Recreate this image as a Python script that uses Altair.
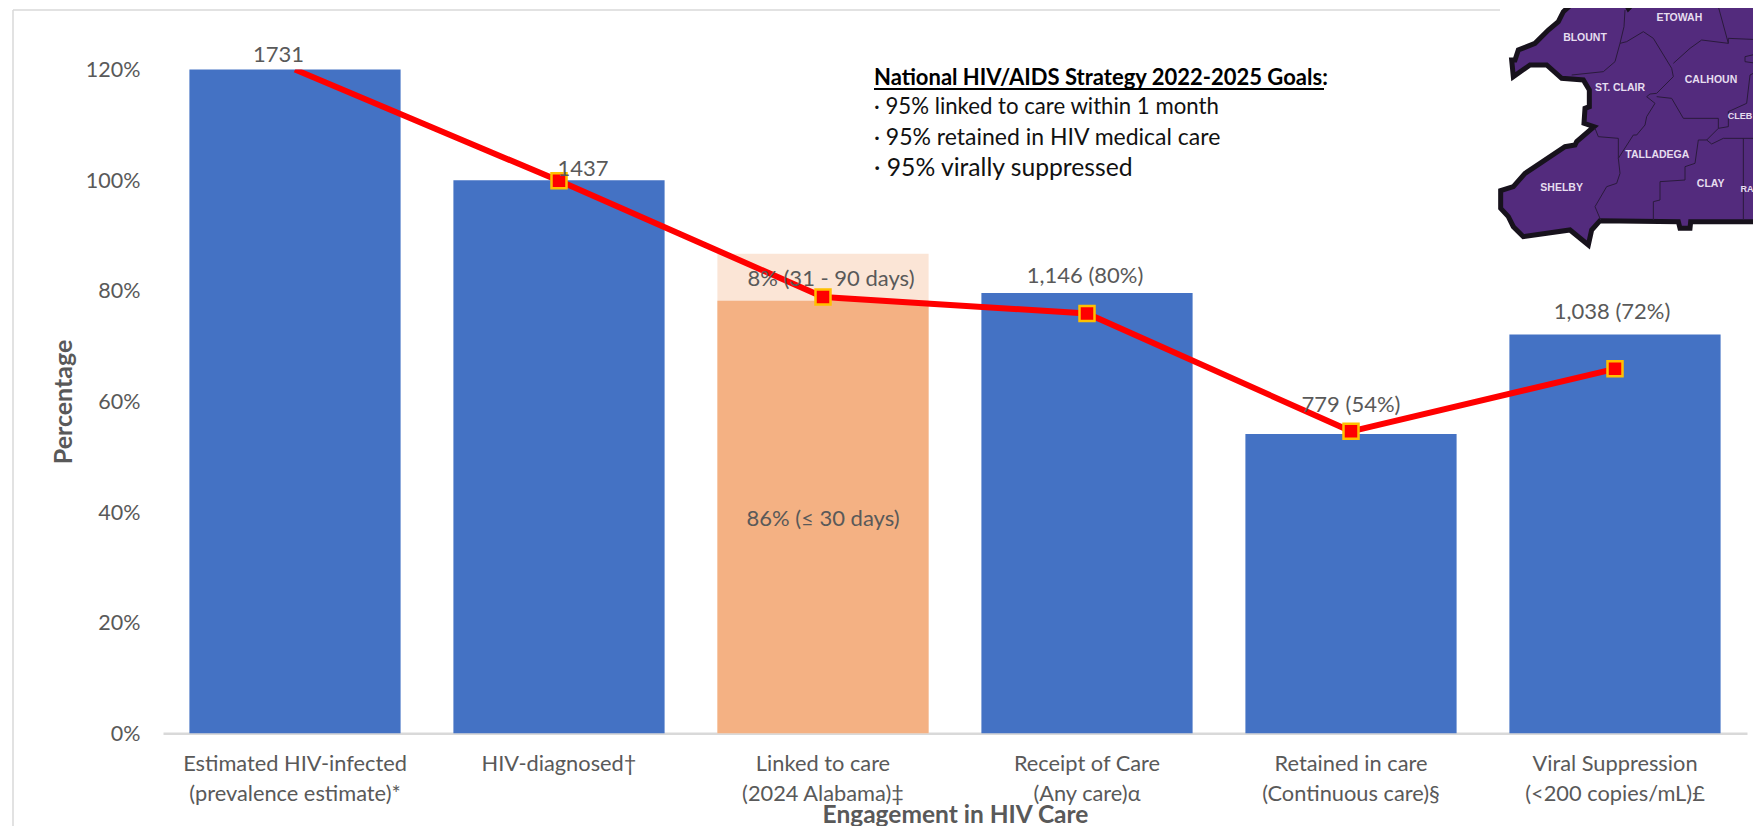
import altair as alt

categories = ["Estimated HIV-infected\n(prevalence estimate)*", "HIV-diagnosed†", "Linked to care\n(2024 Alabama)‡",
              "Receipt of Care\n(Any care)α", "Retained in care\n(Continuous care)§", "Viral Suppression\n(<200 copies/mL)£"]
blue_values = [120, 100, None, 79.6, 54.1, 72.1]
linked_30 = 78.2
linked_90 = 86.7
line_values = [120, 99.9, 78.9, 75.9, 54.6, 65.9]
bar_labels = ["1731", "1437", "8% (31 - 90 days)", "1,146 (80%)", "779 (54%)", "1,038 (72%)"]
label_heights = [120, 100, 83.4, 79.7, 54.2, 72.2]
label_inner = "86% (≤ 30 days)"
goal_title = "National HIV/AIDS Strategy 2022-2025 Goals:"
goal_lines = ["· 95% linked to care within 1 month", "· 95% retained in HIV medical care", "· 95% virally suppressed"]
axis_x_title = "Engagement in HIV Care"
axis_y_title = "Percentage"
y_ticks = [0, 20, 40, 60, 80, 100, 120]

county_names = ["BLOUNT", "ETOWAH", "ST. CLAIR", "CALHOUN", "CLEB", "TALLADEGA", "CLAY", "RA", "SHELBY"]
county_at = [(315, 113), (598, 55), (420, 265), (693, 240), (780, 348), (532, 465), (692, 552), (801, 568), (245, 563)]
county_size = [10.5, 10.5, 10.5, 10.5, 9, 10.5, 10.5, 9, 10.5]
outline = [(300, -10), (250, 35), (235, 65), (205, 90), (165, 130), (115, 150), (105, 180), (95, 180), (100, 230),
           (150, 195), (200, 195), (245, 235), (310, 240), (328, 270), (328, 320), (315, 325), (312, 370), (342, 380),
           (290, 425), (285, 435), (255, 440), (180, 490), (135, 520), (100, 560), (62, 572), (62, 625), (85, 650),
           (100, 680), (130, 710), (270, 690), (325, 735), (335, 690), (360, 662), (595, 665), (600, 685), (630, 685),
           (632, 665), (870, 665), (870, -10), (480, -10), (445, 25), (425, -10)]
borders = [
    [(435, 30), (432, 80), (420, 130), (405, 185), (370, 215), (275, 225)],
    [(420, 130), (440, 125), (490, 95), (520, 115), (575, 205), (580, 230), (530, 280), (510, 282), (500, 290), (525, 310),
     (500, 350), (495, 375), (470, 405), (460, 405), (415, 475)],
    [(345, 385), (355, 410), (415, 415), (415, 475), (420, 520), (410, 550), (380, 560), (345, 620), (362, 660)],
    [(580, 190), (630, 145), (665, 120), (745, 130), (715, 20), (690, 10), (715, -5)],
    [(745, 130), (745, 115), (860, 120)],
    [(530, 290), (575, 295), (610, 355), (715, 355), (715, 385), (745, 380), (745, 335), (800, 310), (810, 225), (830, 215),
     (830, 190), (795, 185), (795, 170), (860, 155)],
    [(715, 385), (680, 420), (655, 420), (645, 490), (615, 500), (615, 540), (540, 545), (540, 600), (520, 605), (520, 660)],
    [(680, 420), (695, 432), (730, 415), (860, 415)],
    [(790, 415), (790, 660)],
]

LEFT, TOP = 163.0, 69.6
PW, PH = 1584, 663.7
FONT = "Lato"
GREY = "#595959"


def px(x):
    return x - LEFT


def py(y):
    return y - TOP


def mp(p):
    return [1480 + p[0] / 3 - LEFT, p[1] / 3 - TOP]


x = alt.X("cat:N", sort=categories, scale=alt.Scale(paddingInner=0.2, paddingOuter=0.1),
          axis=alt.Axis(title=axis_x_title, titleFont=FONT, titleFontSize=24.5, titleFontWeight="bold", titleColor=GREY,
                        titleY=88.7, titleBaseline="alphabetic",
                        labelExpr="split(datum.label, '\\n')", labelFont=FONT, labelFontSize=21.8, labelColor=GREY,
                        labelAngle=0, labelPadding=20, labelLineHeight=30, labelLimit=400, ticks=False,
                        domainColor="#d9d9d9", domainWidth=2.5))
y = alt.Y("v:Q", scale=alt.Scale(domain=[0, 120], nice=False),
          axis=alt.Axis(title=axis_y_title, values=y_ticks, format=".0f", labelExpr="datum.label + '%'",
                        titleFont=FONT, titleFontSize=25, titleFontWeight="bold", titleColor=GREY, titleX=-87,
                        labelFont=FONT, labelFontSize=21.5, labelColor=GREY, labelPadding=23, labelOffset=1,
                        ticks=False, domain=False, grid=False))

rows = [{"cat": c, "v": v} for c, v in zip(categories, blue_values) if v is not None]
bars = alt.Chart(alt.Data(values=rows)).mark_bar(color="#4472C4").encode(x=x, y=y)
top = alt.Chart(alt.Data(values=[{"cat": categories[2], "v": linked_90}])).mark_bar(color="#FBE5D6").encode(x=x, y=y)
low = alt.Chart(alt.Data(values=[{"cat": categories[2], "v": linked_30}])).mark_bar(color="#F4B183").encode(x=x, y=y)

line_rows = [{"cat": c, "v": v} for c, v in zip(categories, line_values)]
line = alt.Chart(alt.Data(values=line_rows)).mark_line(color="#FF0000", strokeWidth=6, clip=True).encode(x=x, y=y)
points = alt.Chart(alt.Data(values=line_rows[1:])).mark_square(size=225, color="#FF0000", stroke="#FFC000", strokeWidth=2.5,
                                                               opacity=1, fillOpacity=1).encode(x=x, y=y)

label_dx = [-16.5, 24, 8, -2, 0, -3]
label_dy = [-15, -11, 7, -16, -29, -21.5]
texts = []
for c, t, h, dx, dy in zip(categories, bar_labels, label_heights, label_dx, label_dy):
    texts.append(alt.Chart(alt.Data(values=[{"cat": c, "v": h}]))
                 .mark_text(text=t, font=FONT, fontSize=22, color=GREY, dx=dx, dy=dy, baseline="middle")
                 .encode(x=x, y=y))
inner = alt.Chart(alt.Data(values=[{"cat": categories[2], "v": 39}])).mark_text(
    text=label_inner, font=FONT, fontSize=22, color=GREY, baseline="middle", dy=1).encode(x=x, y=y)


def free_text(t, xp, yp, size, weight="normal", color="#111111", font=FONT, align="left", baseline="alphabetic"):
    return alt.Chart(alt.Data(values=[{}])).mark_text(
        text=t, font=font, fontSize=size, fontWeight=weight, color=color, align=align, baseline=baseline
    ).encode(x=alt.value(px(xp)), y=alt.value(py(yp)))


def free_rule(x1, x2, y1, y2, color, width):
    return alt.Chart(alt.Data(values=[{}])).mark_rule(color=color, strokeWidth=width).encode(
        x=alt.value(px(x1)), x2=alt.value(px(x2)), y=alt.value(py(y1)), y2=alt.value(py(y2)))


goal = [free_text(goal_title, 874, 85, 22, "bold", "#000000"), free_rule(874, 1324, 89, 89, "#000000", 2)]
for t, yb, s in zip(goal_lines, [114, 145, 176], [22.2, 23, 24.7]):
    goal.append(free_text(t, 874, yb, s))

frame = [free_rule(13, 13, 10, 829, "#d9d9d9", 1.5), free_rule(13, 1500, 10, 10, "#d9d9d9", 1.5)]

proj = alt.Projection(type="identity", scale=1, translate=[0, 0])
land_f = [{"type": "Feature", "geometry": {"type": "Polygon", "coordinates": [[mp(p) for p in outline] + [mp(outline[0])]]},
           "properties": {}}]
border_f = [{"type": "Feature", "geometry": {"type": "LineString", "coordinates": [mp(p) for p in b]}, "properties": {}}
            for b in borders]
land = alt.Chart(alt.Data(values=land_f)).mark_geoshape(fill="#532B7D", stroke="#17121c", strokeWidth=5, clip=False,
                                                        strokeJoin="miter").project(**proj.to_dict())
lines_map = alt.Chart(alt.Data(values=border_f)).mark_geoshape(filled=False, stroke="#2a1a3c", strokeWidth=1,
                                                               clip=False).project(**proj.to_dict())
county_text = [free_text(n, 1480 + a / 3, b / 3, s, "bold", "#e6ddef", "Liberation Sans", "center", "middle")
               for n, (a, b), s in zip(county_names, county_at, county_size)]

chart = alt.layer(*frame, bars, top, low, line, points, *texts, inner, *goal, land, lines_map, *county_text).properties(
    width=PW, height=PH,
    padding={"left": LEFT - 8, "top": TOP - 8, "right": 6, "bottom": 826 - 8 - (TOP - 8) - PH},
    autosize=alt.AutoSizeParams(type="none"),
    background="white",
).configure_view(stroke=None)

chart.save("out.html", embed_options={"renderer": "svg", "actions": False})
